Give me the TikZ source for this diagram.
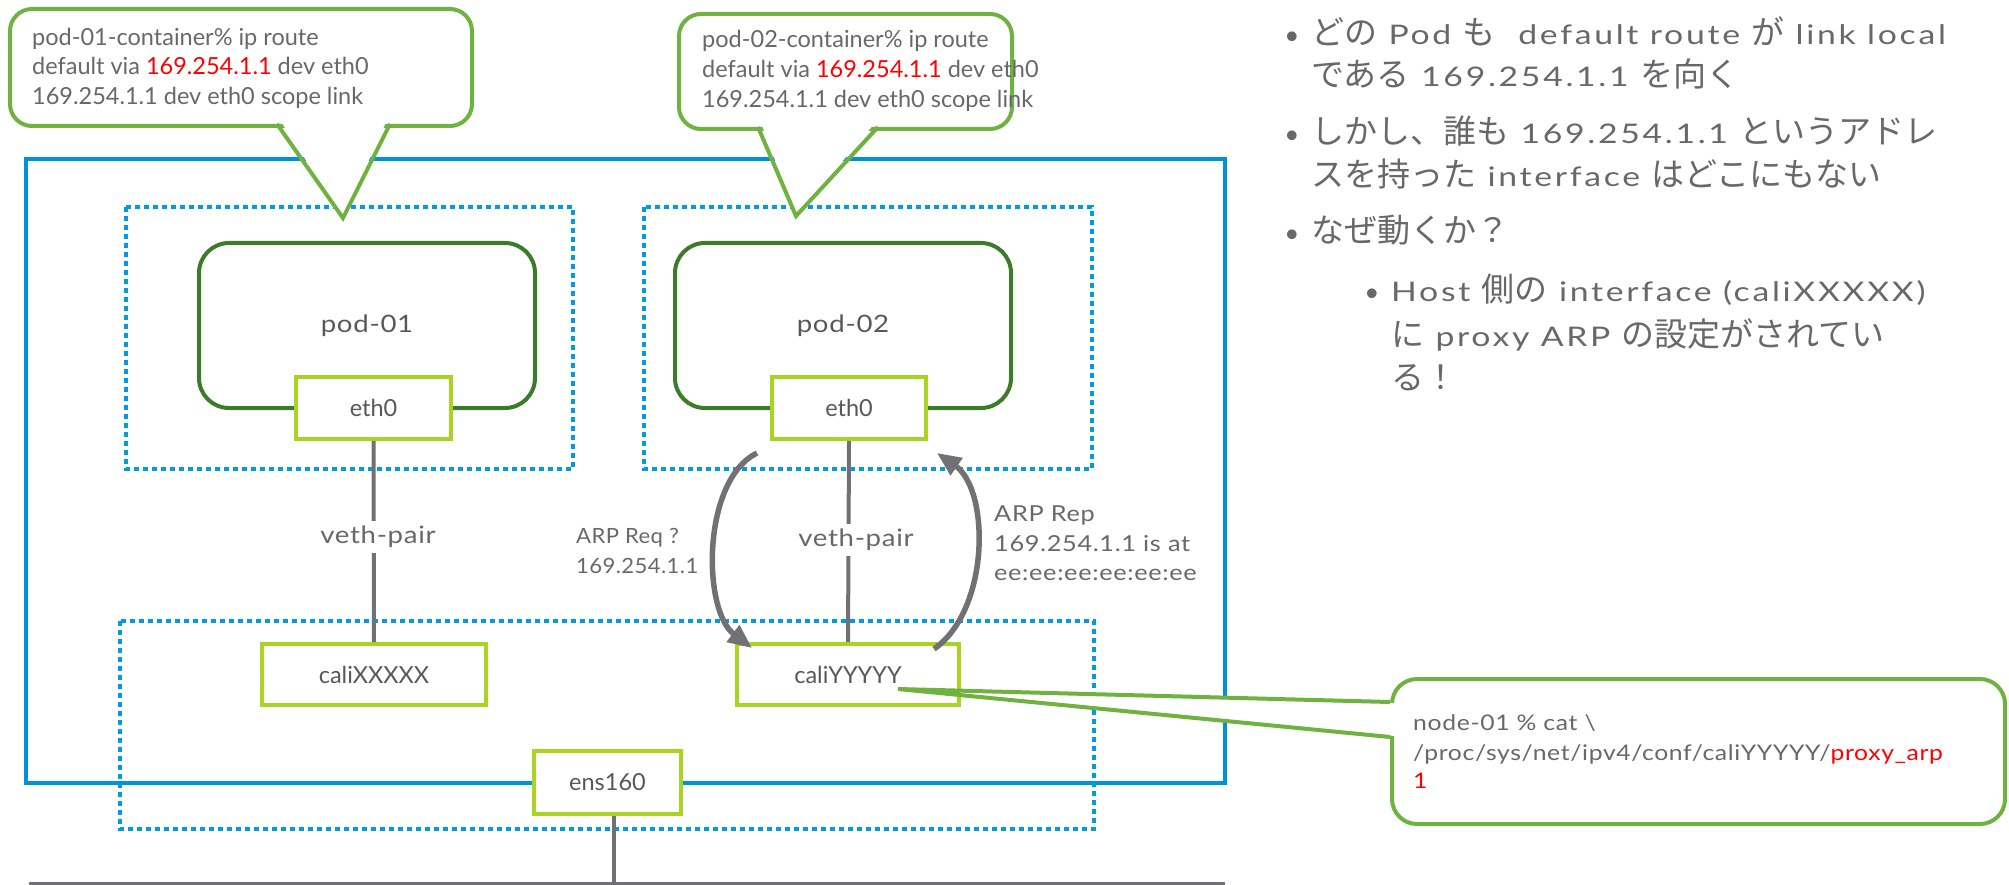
\documentclass[tikz,border=0pt]{standalone}
\usepackage{fontspec}
\setmainfont{Lato}
% wider, slightly tracked cuts for the labels and the list
\newfontfamily\metro{Lato}[FakeStretch=1.15, LetterSpace=3]
\newfontfamily\metrolite{Lato}[FakeStretch=1.05, LetterSpace=2]
\newfontfamily\listfont{Lato}[FakeStretch=1.25, LetterSpace=10]
\newfontfamily\jpfont{Noto Sans CJK JP}
\usetikzlibrary{arrows.meta}

\definecolor{hostblue}{RGB}{0,146,216}
\definecolor{zoneblue}{RGB}{0,156,222}
\definecolor{podgreen}{RGB}{58,124,42}
\definecolor{ifgreen}{RGB}{170,212,34}
\definecolor{notegreen}{RGB}{112,178,64}
\definecolor{wiregray}{RGB}{112,112,117}
\definecolor{labelgray}{RGB}{88,88,92}
\definecolor{textgray}{RGB}{104,104,108}
\definecolor{hot}{RGB}{255,0,0}

% Japanese runs inside the bullet list
\newcommand\J[1]{{\jpfont\fontsize{33pt}{40pt}\selectfont #1}}

\tikzset{
  hostframe/.style={draw=hostblue, line width=4pt},
  zone/.style={draw=zoneblue, line width=4pt, dash pattern=on 5pt off 4pt},
  podbox/.style={draw=podgreen, line width=4pt, rounded corners=30pt, inner sep=0pt,
    text=labelgray, font=\metro\fontsize{24pt}{30pt}\selectfont},
  ifbox/.style={draw=ifgreen, line width=4pt, fill=white, inner sep=0pt,
    text=labelgray, font=\fontsize{23.5pt}{28pt}\selectfont},
  wire/.style={draw=wiregray, line width=4pt},
  arp/.style={draw=wiregray, line width=5.5pt, -{Triangle[length=24pt,width=20pt]}},
  wirelabel/.style={fill=white, inner xsep=2pt, inner ysep=5pt, text=textgray,
    font=\metro\fontsize{24pt}{30pt}\selectfont},
  notebox/.style={draw=notegreen, line width=4pt, fill=white, rounded corners=22pt, inner sep=0pt},
  notetail/.style={draw=notegreen, line width=4pt, line join=miter},
  notetext/.style={inner sep=0pt, anchor=base west, text=textgray,
    font=\fontsize{23.5pt}{30pt}\selectfont},
  smallnote/.style={inner sep=0pt, anchor=base west, text=textgray,
    font=\metro\fontsize{21.5pt}{29pt}\selectfont},
  arptext/.style={inner sep=0pt, anchor=base west, text=textgray,
    font=\metro\fontsize{22pt}{30pt}\selectfont},
  reqtext/.style={inner sep=0pt, anchor=base west, text=textgray,
    font=\metrolite\fontsize{21pt}{30pt}\selectfont},
  bullettext/.style={inner sep=0pt, anchor=base west, text=textgray,
    font=\listfont\fontsize{27pt}{40pt}\selectfont},
  bulletdot/.style={inner sep=0pt, anchor=base, text=textgray,
    font=\fontsize{26pt}{40pt}\selectfont},
}

\begin{document}
\begin{tikzpicture}[x=1pt,y=-1pt]
\useasboundingbox (0,0) rectangle (2009,885);

% host frame and the dotted namespaces
\draw[hostframe] (26,159) rectangle (1225,783);
\draw[zone] (126,207) rectangle (573,469);
\draw[zone] (644,207) rectangle (1092,469);
\draw[zone] (120,621) rectangle (1094,829);

% pods
\node[podbox, minimum width=336pt, minimum height=165pt, anchor=north west] (pod1) at (197,241) {pod-01};
\node[podbox, minimum width=336pt, minimum height=165pt, anchor=north west] (pod2) at (673,241) {pod-02};

% interfaces
\node[ifbox, minimum width=155pt, minimum height=62pt, anchor=north west] (eth1) at (294,375) {eth0};
\node[ifbox, minimum width=154pt, minimum height=62pt, anchor=north west] (eth2) at (770,375) {eth0};
\node[ifbox, minimum width=224pt, minimum height=61pt, anchor=north west] (calix) at (260,642) {caliXXXXX};
\node[ifbox, minimum width=222pt, minimum height=61pt, anchor=north west] (caliy) at (735,642) {caliYYYYY};
\node[ifbox, minimum width=147pt, minimum height=63pt, anchor=north west] (ens) at (532,749) {ens160};

% veth pairs
\draw[wire] (eth1.south) -- (calix.north);
\draw[wire] (eth2.south) -- (caliy.north);
\node[wirelabel] (veth1) at (378,537) {veth-pair};
\node[wirelabel] (veth2) at (856,540) {veth-pair};

% uplink
\coordinate (uplink) at (614,885);
\coordinate (segL) at (29,883);
\coordinate (segR) at (1225,883);
\draw[wire] (ens.south -| uplink) -- (uplink);
\draw[draw=wiregray, line width=3pt] (segL) -- (segR);

% ARP request / reply
\coordinate (reqS) at (757,453);
\coordinate (reqE) at (752,648);
\coordinate (repS) at (934,649);
\coordinate (repE) at (937,453);
\draw[arp] (reqS) .. controls (702,480) and (702,610) .. (reqE);
\draw[arp] (repS) .. controls (990,610) and (990,490) .. (repE);
\node[reqtext] (reqA) at (576,543) {ARP Req ?};
\node[reqtext] (reqB) at (576,573) {169.254.1.1};
\node[arptext] (repA) at (994,521) {ARP Rep};
\node[arptext] (repB) at (994,551) {169.254.1.1 is at};
\node[arptext] (repC) at (994,580) {ee:ee:ee:ee:ee:ee};

% route table notes
\node[notebox, minimum width=462pt, minimum height=117pt, anchor=north west] (note1) at (8,7) {};
\coordinate (tip1) at (343,218);
\fill[white] (280,120) -- (tip1) -- (387,120) -- cycle;
\draw[notetail] (277,124) -- (tip1) -- (390,124);
\node[notetext] (n1a) at (32,46) {pod-01-container\% ip route};
\node[notetext] (n1b) at (32,75) {default via \textcolor{hot}{169.254.1.1} dev eth0};
\node[notetext] (n1c) at (32,105) {169.254.1.1 dev eth0 scope link};

\node[notebox, minimum width=333pt, minimum height=115pt, anchor=north west] (note2) at (677,12) {};
\coordinate (tip2) at (796,216);
\fill[white] (761,123) -- (tip2) -- (875,123) -- cycle;
\draw[notetail] (758,127) -- (tip2) -- (878,127);
\node[notetext] (n2a) at (702,48) {pod-02-container\% ip route};
\node[notetext] (n2b) at (702,78) {default via \textcolor{hot}{169.254.1.1} dev eth0};
\node[notetext] (n2c) at (702,108) {169.254.1.1 dev eth0 scope link};

% proxy_arp note
\node[notebox, minimum width=613pt, minimum height=145pt, rounded corners=25pt, anchor=north west] (note3) at (1390,677) {};
\coordinate (tip3) at (898,689);
\fill[white] (1395,703) -- (tip3) -- (1395,736) -- cycle;
\draw[notetail] (note3.west |- 0,702) -- (tip3) -- (note3.west |- 0,737);
\node[smallnote] (n3a) at (1413,730) {node-01 \% cat \textbackslash};
\node[smallnote] (n3b) at (1413,760) {/proc/sys/net/ipv4/conf/caliYYYYY/\textcolor{hot}{proxy\_arp}};
\node[smallnote] (n3c) at (1413,788) {\textcolor{hot}{1}};

% bullet list
\node[bulletdot] (d1) at (1292,45) {•};
\node[bullettext] (t1) at (1311,45) {\J{どの} Pod \J{も}\ \ default route \J{が} link local};
\node[bullettext] (t2) at (1311,87) {\J{である} 169.254.1.1 \J{を向く}};
\node[bulletdot] (d2) at (1292,144) {•};
\node[bullettext] (t3) at (1311,144) {\J{しかし、誰も} 169.254.1.1 \J{というアドレ}};
\node[bullettext] (t4) at (1311,187) {\J{スを持った} interface \J{はどこにもない}};
\node[bulletdot] (d3) at (1292,243) {•};
\node[bullettext] (t5) at (1311,243) {\J{なぜ動くか？}};
\node[bulletdot] (d4) at (1372,301) {•};
\node[bullettext] (t6) at (1391,301) {Host \J{側の} interface (caliXXXXX)};
\node[bullettext] (t7) at (1391,346) {\J{に} proxy ARP \J{の設定がされてい}};
\node[bullettext] (t8) at (1391,389) {\J{る！}};
\end{tikzpicture}
\end{document}
